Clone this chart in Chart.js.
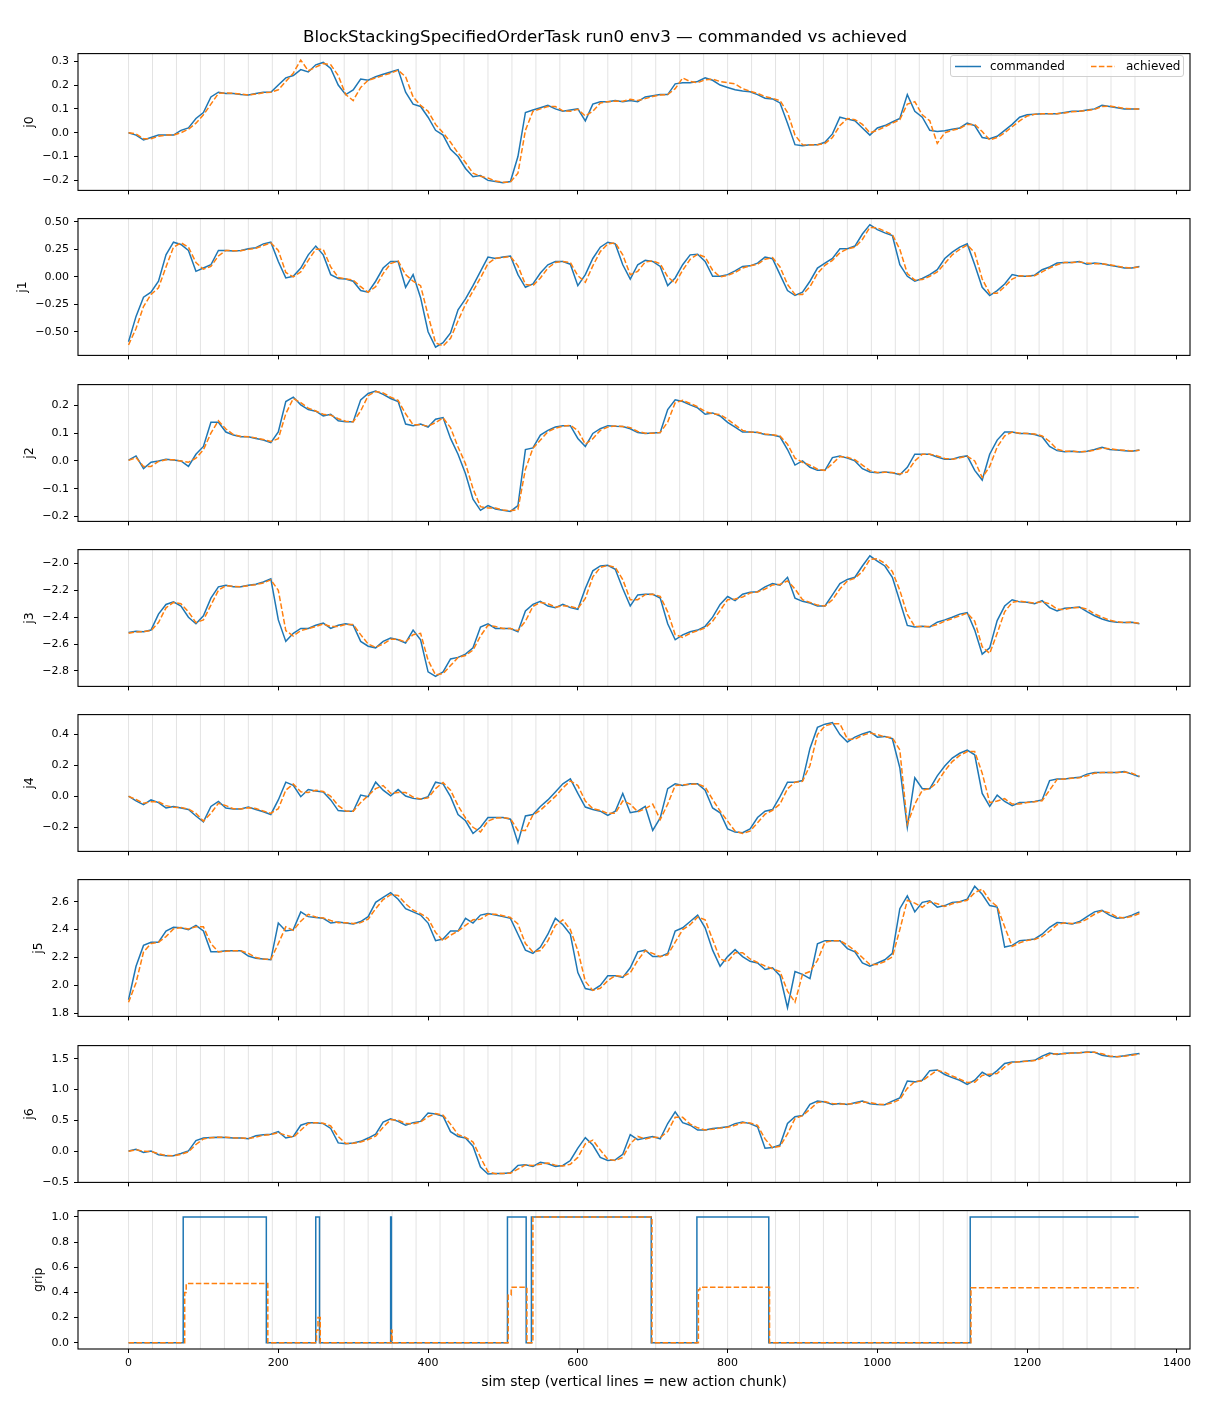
<!DOCTYPE html>
<html>
<head>
<meta charset="utf-8">
<script src="https://cdn.jsdelivr.net/npm/chart.js@4.4.1/dist/chart.umd.min.js"></script>
<style>
  body { margin: 0; background: #fff; font-family: "DejaVu Sans", sans-serif; }
  #fig { position: relative; width: 1210px; height: 1408px; overflow: hidden; }
  .panel { position: absolute; left: 0; width: 1210px; }
  #title { position: absolute; left: 0; top: 25px; width: 1210px; text-align: center;
           font-size: 16.7px; line-height: 22px; color: #000; z-index: 5; }
  #legend { position: absolute; left: 950px; top: 55px; width: 234px; height: 22px; box-sizing: border-box;
            border: 1px solid #d0d0d0; border-radius: 3px; background: rgba(255,255,255,0.8); z-index: 5; }
  #legend span { position: absolute; top: 3px; font-size: 12px; line-height: 14px; color: #000; }
  #legend svg { position: absolute; left: 0; top: 0; }
</style>
</head>
<body>
<div id="fig">
  <div id="title">BlockStackingSpecifiedOrderTask run0 env3 — commanded vs achieved</div>
  <div id="legend">
    <svg width="234" height="22">
      <line x1="4" y1="10.5" x2="30" y2="10.5" stroke="#1f77b4" stroke-width="1.5"/>
      <line x1="140" y1="10.5" x2="164" y2="10.5" stroke="#ff7f0e" stroke-width="1.5" stroke-dasharray="5.5 2.4"/>
    </svg>
    <span style="left:39px">commanded</span>
    <span style="left:175px">achieved</span>
  </div>
</div>
<script>
const steps = [
  0,10,20,30,40,50,60,70,80,90,
  100,110,120,130,140,150,160,170,180,190,
  200,210,220,230,240,250,260,270,280,290,
  300,310,320,330,340,350,360,370,380,390,
  400,410,420,430,440,450,460,470,480,490,
  500,510,520,530,540,550,560,570,580,590,
  600,610,620,630,640,650,660,670,680,690,
  700,710,720,730,740,750,760,770,780,790,
  800,810,820,830,840,850,860,870,880,890,
  900,910,920,930,940,950,960,970,980,990,
  1000,1010,1020,1030,1040,1050,1060,1070,1080,1090,
  1100,1110,1120,1130,1140,1150,1160,1170,1180,1190,
  1200,1210,1220,1230,1240,1250,1260,1270,1280,1290,
  1300,1310,1320,1330,1340,1350
];

// new action chunk starts
const chunkStarts = [0,32,64,96,128,160,192,224,256,288,320,352,384,416,448,480,512,544,576,608,
  640,672,704,736,768,800,832,864,896,928,960,992,1024,1056,1088,1120,1152,1184,1216,1248,1280,1312,1344];

const j0Cmd = [
  0.00,-0.01,-0.03,-0.02,-0.01,-0.01,-0.01,0.01,0.02,0.06,
  0.085,0.15,0.17,0.165,0.165,0.16,0.158,0.165,0.17,0.17,
  0.20,0.23,0.24,0.265,0.255,0.285,0.295,0.27,0.20,0.16,
  0.18,0.225,0.22,0.235,0.245,0.255,0.265,0.17,0.12,0.11,
  0.065,0.01,-0.01,-0.07,-0.10,-0.15,-0.185,-0.18,-0.20,-0.205,
  -0.21,-0.205,-0.10,0.085,0.095,0.105,0.115,0.10,0.09,0.095,
  0.10,0.05,0.12,0.13,0.13,0.135,0.13,0.135,0.13,0.15,
  0.155,0.16,0.16,0.205,0.21,0.21,0.215,0.23,0.22,0.20,
  0.19,0.18,0.175,0.172,0.16,0.145,0.142,0.125,0.04,-0.05,
  -0.055,-0.05,-0.05,-0.04,-0.005,0.065,0.057,0.05,0.02,-0.01,
  0.02,0.03,0.045,0.06,0.16,0.09,0.065,0.01,0.005,0.008,
  0.015,0.02,0.04,0.03,-0.02,-0.025,-0.015,0.01,0.035,0.065,
  0.075,0.078,0.08,0.08,0.08,0.085,0.09,0.09,0.095,0.10,
  0.115,0.11,0.105,0.10,0.10,0.10
];
const j0Ach = [
  0.00,-0.005,-0.025,-0.025,-0.015,-0.01,-0.01,0.0,0.015,0.04,
  0.075,0.12,0.165,0.167,0.165,0.162,0.158,0.162,0.168,0.17,
  0.18,0.215,0.25,0.305,0.26,0.275,0.29,0.285,0.24,0.16,
  0.135,0.19,0.22,0.23,0.24,0.25,0.262,0.235,0.15,0.115,
  0.09,0.035,0.0,-0.04,-0.085,-0.125,-0.17,-0.183,-0.19,-0.203,
  -0.208,-0.207,-0.17,0.01,0.09,0.10,0.11,0.11,0.092,0.09,
  0.098,0.07,0.09,0.125,0.13,0.133,0.132,0.14,0.135,0.143,
  0.152,0.158,0.16,0.185,0.23,0.215,0.21,0.222,0.225,0.215,
  0.21,0.205,0.185,0.174,0.165,0.152,0.144,0.135,0.085,-0.01,
  -0.05,-0.052,-0.05,-0.045,-0.02,0.03,0.06,0.055,0.035,0.0,
  0.01,0.025,0.04,0.055,0.12,0.13,0.075,0.05,-0.045,0.0,
  0.01,0.018,0.035,0.035,0.005,-0.03,-0.02,0.0,0.025,0.05,
  0.07,0.077,0.08,0.08,0.08,0.083,0.088,0.09,0.093,0.098,
  0.11,0.112,0.107,0.102,0.10,0.10
];

const j1Cmd = [
  -0.59,-0.36,-0.185,-0.14,-0.04,0.20,0.315,0.295,0.24,0.05,
  0.08,0.11,0.24,0.24,0.235,0.24,0.255,0.265,0.30,0.315,
  0.14,-0.01,0.005,0.08,0.20,0.28,0.20,0.02,-0.015,-0.02,
  -0.04,-0.125,-0.14,-0.04,0.08,0.14,0.14,-0.095,0.02,-0.19,
  -0.50,-0.64,-0.60,-0.51,-0.30,-0.20,-0.08,0.05,0.18,0.167,
  0.18,0.19,0.02,-0.095,-0.065,0.035,0.11,0.14,0.14,0.115,
  -0.08,0.02,0.167,0.27,0.315,0.30,0.11,-0.02,0.11,0.15,
  0.14,0.095,-0.08,-0.01,0.11,0.20,0.205,0.14,0.005,0.005,
  0.02,0.055,0.095,0.10,0.125,0.18,0.165,0.02,-0.125,-0.17,
  -0.14,-0.04,0.08,0.125,0.167,0.255,0.255,0.28,0.39,0.475,
  0.43,0.40,0.375,0.11,0.005,-0.04,-0.015,0.02,0.065,0.167,
  0.225,0.27,0.30,0.11,-0.095,-0.17,-0.125,-0.065,0.02,0.005,
  0.005,0.015,0.065,0.09,0.125,0.13,0.13,0.14,0.115,0.125,
  0.12,0.105,0.095,0.08,0.08,0.095
];
const j1Ach = [
  -0.62,-0.47,-0.27,-0.16,-0.10,0.09,0.27,0.31,0.27,0.13,
  0.07,0.095,0.19,0.24,0.238,0.238,0.25,0.26,0.285,0.31,
  0.24,0.04,0.0,0.045,0.15,0.25,0.25,0.09,-0.005,-0.02,
  -0.03,-0.09,-0.14,-0.09,0.03,0.12,0.145,0.02,-0.04,-0.08,
  -0.35,-0.60,-0.63,-0.56,-0.40,-0.25,-0.13,-0.01,0.12,0.17,
  0.175,0.185,0.10,-0.07,-0.08,-0.01,0.08,0.13,0.14,0.13,
  0.01,-0.05,0.10,0.23,0.30,0.31,0.20,0.02,0.05,0.135,
  0.145,0.12,0.0,-0.06,0.06,0.16,0.205,0.18,0.06,0.0,
  0.012,0.04,0.08,0.10,0.115,0.16,0.175,0.09,-0.07,-0.16,
  -0.16,-0.09,0.03,0.105,0.15,0.22,0.255,0.27,0.34,0.45,
  0.445,0.415,0.385,0.25,0.03,-0.03,-0.025,0.005,0.045,0.12,
  0.20,0.25,0.29,0.22,-0.02,-0.15,-0.15,-0.09,-0.02,0.01,
  0.005,0.01,0.045,0.08,0.11,0.13,0.13,0.135,0.125,0.12,
  0.12,0.11,0.098,0.085,0.08,0.09
];

const j2Cmd = [
  0.003,0.018,-0.028,-0.005,0.0,0.006,0.003,0.0,-0.02,0.024,
  0.052,0.139,0.139,0.104,0.093,0.087,0.087,0.081,0.075,0.066,
  0.104,0.214,0.23,0.202,0.185,0.179,0.162,0.168,0.145,0.141,
  0.141,0.22,0.243,0.252,0.24,0.225,0.214,0.133,0.127,0.133,
  0.122,0.15,0.156,0.081,0.024,-0.046,-0.138,-0.178,-0.161,-0.173,
  -0.178,-0.182,-0.161,0.041,0.047,0.093,0.11,0.122,0.127,0.127,
  0.081,0.052,0.099,0.116,0.127,0.125,0.124,0.116,0.102,0.099,
  0.101,0.102,0.185,0.22,0.214,0.202,0.191,0.168,0.173,0.162,
  0.139,0.122,0.104,0.104,0.102,0.095,0.093,0.087,0.041,-0.015,
  0.0,-0.023,-0.034,-0.034,0.012,0.018,0.01,0.0,-0.028,-0.04,
  -0.043,-0.04,-0.043,-0.05,-0.023,0.024,0.024,0.024,0.014,0.006,
  0.006,0.014,0.018,-0.034,-0.069,0.024,0.075,0.104,0.104,0.099,
  0.099,0.095,0.087,0.052,0.037,0.033,0.035,0.032,0.035,0.041,
  0.049,0.041,0.039,0.037,0.035,0.039
];
const j2Ach = [
  0.002,0.012,-0.02,-0.02,-0.002,0.004,0.004,0.0,-0.005,0.01,
  0.04,0.10,0.145,0.115,0.095,0.088,0.087,0.083,0.077,0.07,
  0.08,0.17,0.225,0.21,0.19,0.18,0.168,0.165,0.152,0.143,
  0.141,0.18,0.235,0.25,0.245,0.23,0.218,0.17,0.13,0.13,
  0.125,0.138,0.155,0.12,0.05,-0.01,-0.10,-0.165,-0.17,-0.17,
  -0.177,-0.18,-0.175,-0.03,0.045,0.075,0.105,0.118,0.125,0.128,
  0.11,0.06,0.08,0.11,0.122,0.126,0.124,0.12,0.106,0.1,
  0.1,0.102,0.14,0.21,0.218,0.207,0.195,0.178,0.17,0.167,
  0.15,0.13,0.11,0.104,0.103,0.097,0.094,0.09,0.06,0.01,
  -0.005,-0.015,-0.03,-0.034,-0.01,0.016,0.013,0.004,-0.015,-0.035,
  -0.042,-0.041,-0.042,-0.047,-0.04,0.0,0.024,0.024,0.018,0.009,
  0.006,0.011,0.017,0.0,-0.06,-0.02,0.05,0.09,0.104,0.1,
  0.099,0.097,0.09,0.07,0.042,0.035,0.035,0.033,0.034,0.039,
  0.046,0.044,0.04,0.038,0.036,0.038
];

const j3Cmd = [
  -2.513,-2.504,-2.508,-2.496,-2.377,-2.305,-2.286,-2.317,-2.40,-2.449,
  -2.389,-2.258,-2.174,-2.162,-2.174,-2.174,-2.162,-2.155,-2.138,-2.115,
  -2.42,-2.58,-2.52,-2.484,-2.484,-2.46,-2.444,-2.484,-2.46,-2.449,
  -2.46,-2.58,-2.616,-2.628,-2.58,-2.556,-2.568,-2.592,-2.496,-2.568,
  -2.807,-2.84,-2.807,-2.711,-2.699,-2.675,-2.628,-2.473,-2.449,-2.484,
  -2.484,-2.484,-2.508,-2.353,-2.305,-2.282,-2.317,-2.329,-2.305,-2.329,
  -2.341,-2.186,-2.055,-2.019,-2.014,-2.043,-2.186,-2.317,-2.234,-2.229,
  -2.229,-2.258,-2.449,-2.568,-2.532,-2.508,-2.496,-2.468,-2.40,-2.305,
  -2.246,-2.277,-2.229,-2.215,-2.21,-2.174,-2.15,-2.162,-2.103,-2.258,
  -2.282,-2.294,-2.317,-2.317,-2.234,-2.15,-2.119,-2.103,-2.019,-1.943,
  -1.983,-2.019,-2.103,-2.282,-2.461,-2.473,-2.468,-2.473,-2.437,-2.42,
  -2.40,-2.377,-2.365,-2.496,-2.675,-2.628,-2.425,-2.317,-2.27,-2.286,
  -2.289,-2.30,-2.277,-2.329,-2.353,-2.334,-2.329,-2.325,-2.358,-2.389,
  -2.413,-2.43,-2.437,-2.44,-2.437,-2.449
];
const j3Ach = [
  -2.52,-2.51,-2.508,-2.50,-2.44,-2.33,-2.29,-2.30,-2.36,-2.44,
  -2.42,-2.31,-2.20,-2.165,-2.17,-2.174,-2.165,-2.158,-2.145,-2.122,
  -2.20,-2.50,-2.54,-2.50,-2.485,-2.47,-2.45,-2.47,-2.47,-2.453,
  -2.455,-2.53,-2.60,-2.625,-2.60,-2.565,-2.565,-2.585,-2.53,-2.52,
  -2.72,-2.83,-2.82,-2.76,-2.70,-2.685,-2.645,-2.54,-2.46,-2.47,
  -2.484,-2.484,-2.50,-2.43,-2.32,-2.29,-2.30,-2.325,-2.315,-2.32,
  -2.335,-2.26,-2.10,-2.03,-2.015,-2.03,-2.12,-2.27,-2.27,-2.232,
  -2.229,-2.245,-2.36,-2.53,-2.55,-2.52,-2.50,-2.48,-2.43,-2.35,
  -2.27,-2.265,-2.25,-2.22,-2.212,-2.19,-2.16,-2.156,-2.13,-2.19,
  -2.27,-2.29,-2.31,-2.317,-2.27,-2.19,-2.13,-2.11,-2.06,-1.97,
  -1.965,-2.00,-2.06,-2.20,-2.38,-2.47,-2.47,-2.47,-2.455,-2.43,
  -2.41,-2.39,-2.37,-2.43,-2.62,-2.67,-2.52,-2.36,-2.29,-2.28,
  -2.288,-2.295,-2.285,-2.30,-2.34,-2.343,-2.33,-2.327,-2.34,-2.375,
  -2.40,-2.422,-2.434,-2.44,-2.438,-2.445
];

const j4Cmd = [
  0.002,-0.029,-0.054,-0.023,-0.04,-0.075,-0.065,-0.075,-0.085,-0.127,
  -0.165,-0.065,-0.033,-0.075,-0.081,-0.081,-0.069,-0.085,-0.10,-0.117,
  -0.023,0.092,0.071,-0.002,0.044,0.035,0.029,-0.023,-0.092,-0.096,
  -0.096,0.008,-0.002,0.092,0.04,0.004,0.044,0.002,-0.013,-0.019,
  -0.002,0.092,0.081,-0.002,-0.117,-0.158,-0.24,-0.20,-0.137,-0.137,
  -0.137,-0.148,-0.30,-0.127,-0.117,-0.065,-0.023,0.029,0.081,0.113,
  0.019,-0.069,-0.085,-0.096,-0.123,-0.096,0.019,-0.106,-0.096,-0.065,
  -0.22,-0.14,0.05,0.081,0.071,0.081,0.081,0.04,-0.075,-0.106,
  -0.21,-0.231,-0.235,-0.21,-0.137,-0.096,-0.085,-0.002,0.092,0.092,
  0.102,0.31,0.446,0.467,0.477,0.40,0.352,0.383,0.404,0.419,
  0.383,0.388,0.373,0.185,-0.20,0.12,0.05,0.05,0.133,0.196,
  0.248,0.279,0.30,0.269,0.019,-0.065,0.008,-0.033,-0.06,-0.04,
  -0.038,-0.033,-0.023,0.102,0.113,0.113,0.119,0.123,0.144,0.154,
  0.154,0.154,0.154,0.16,0.144,0.127
];
const j4Ach = [
  0.0,-0.02,-0.045,-0.035,-0.035,-0.06,-0.07,-0.072,-0.082,-0.11,
  -0.16,-0.11,-0.045,-0.06,-0.08,-0.081,-0.073,-0.078,-0.095,-0.11,
  -0.08,0.04,0.08,0.03,0.025,0.04,0.032,0.0,-0.06,-0.095,
  -0.096,-0.04,0.005,0.05,0.07,0.02,0.025,0.025,-0.005,-0.017,
  -0.01,0.05,0.09,0.04,-0.06,-0.14,-0.20,-0.23,-0.16,-0.14,
  -0.137,-0.145,-0.22,-0.22,-0.12,-0.09,-0.045,0.0,0.055,0.10,
  0.07,-0.03,-0.08,-0.09,-0.11,-0.11,-0.03,-0.05,-0.10,-0.08,
  -0.05,-0.15,-0.05,0.07,0.075,0.078,0.081,0.06,-0.02,-0.095,
  -0.16,-0.225,-0.24,-0.225,-0.17,-0.115,-0.09,-0.05,0.05,0.092,
  0.097,0.20,0.40,0.455,0.47,0.47,0.37,0.37,0.395,0.41,
  0.40,0.385,0.38,0.30,-0.18,-0.05,0.04,0.05,0.09,0.165,
  0.225,0.265,0.29,0.29,0.15,-0.04,-0.03,-0.015,-0.05,-0.05,
  -0.04,-0.035,-0.028,0.04,0.11,0.113,0.117,0.121,0.133,0.15,
  0.154,0.154,0.154,0.157,0.15,0.13
];

const j5Cmd = [
  1.898,2.138,2.287,2.31,2.31,2.39,2.417,2.413,2.40,2.431,
  2.39,2.241,2.241,2.248,2.248,2.248,2.211,2.195,2.189,2.184,
  2.447,2.39,2.40,2.527,2.493,2.486,2.481,2.447,2.454,2.447,
  2.44,2.458,2.493,2.595,2.63,2.664,2.618,2.55,2.527,2.504,
  2.447,2.321,2.333,2.39,2.39,2.481,2.447,2.504,2.515,2.504,
  2.493,2.481,2.367,2.253,2.23,2.275,2.367,2.481,2.435,2.367,
  2.093,1.978,1.967,2.001,2.07,2.07,2.058,2.127,2.241,2.253,
  2.207,2.207,2.23,2.39,2.413,2.458,2.504,2.413,2.253,2.138,
  2.207,2.257,2.207,2.173,2.161,2.115,2.127,2.07,1.841,2.10,
  2.08,2.05,2.298,2.321,2.321,2.321,2.264,2.241,2.161,2.138,
  2.161,2.184,2.23,2.55,2.641,2.527,2.595,2.607,2.561,2.572,
  2.595,2.60,2.618,2.71,2.653,2.572,2.561,2.275,2.287,2.321,
  2.326,2.333,2.367,2.417,2.451,2.447,2.44,2.458,2.493,2.527,
  2.538,2.504,2.481,2.486,2.504,2.527
];
const j5Ach = [
  1.88,2.02,2.24,2.30,2.31,2.35,2.405,2.415,2.405,2.42,
  2.42,2.30,2.24,2.245,2.248,2.248,2.23,2.20,2.19,2.186,
  2.30,2.42,2.395,2.46,2.51,2.49,2.483,2.465,2.45,2.45,
  2.443,2.45,2.475,2.55,2.615,2.65,2.645,2.585,2.54,2.515,
  2.48,2.38,2.32,2.36,2.39,2.43,2.47,2.475,2.51,2.51,
  2.50,2.487,2.44,2.30,2.24,2.25,2.32,2.43,2.47,2.40,
  2.25,2.03,1.965,1.98,2.035,2.07,2.065,2.09,2.18,2.25,
  2.23,2.207,2.22,2.31,2.40,2.435,2.49,2.47,2.33,2.19,
  2.17,2.235,2.235,2.19,2.165,2.14,2.12,2.10,1.96,1.88,
  2.08,2.10,2.18,2.31,2.321,2.321,2.29,2.25,2.20,2.15,
  2.15,2.172,2.205,2.40,2.61,2.59,2.56,2.60,2.585,2.565,
  2.585,2.598,2.61,2.665,2.69,2.61,2.565,2.42,2.28,2.305,
  2.323,2.33,2.35,2.39,2.435,2.449,2.443,2.45,2.475,2.51,
  2.535,2.52,2.49,2.483,2.495,2.515
];

const j6Cmd = [
  0.005,0.031,-0.021,0.005,-0.057,-0.073,-0.073,-0.036,0.005,0.172,
  0.214,0.224,0.229,0.224,0.214,0.214,0.203,0.25,0.266,0.276,
  0.318,0.214,0.24,0.422,0.464,0.464,0.448,0.37,0.135,0.12,
  0.135,0.161,0.214,0.276,0.474,0.526,0.484,0.422,0.464,0.484,
  0.62,0.604,0.568,0.318,0.24,0.214,0.083,-0.255,-0.37,-0.36,
  -0.36,-0.349,-0.229,-0.219,-0.245,-0.177,-0.203,-0.245,-0.23,-0.15,
  0.05,0.22,0.10,-0.10,-0.15,-0.14,-0.05,0.27,0.188,0.214,
  0.24,0.203,0.45,0.64,0.464,0.422,0.344,0.344,0.37,0.38,
  0.396,0.448,0.474,0.448,0.396,0.05,0.06,0.10,0.45,0.56,
  0.578,0.76,0.813,0.797,0.76,0.776,0.76,0.786,0.813,0.771,
  0.76,0.755,0.813,0.865,1.14,1.125,1.151,1.307,1.318,1.245,
  1.193,1.151,1.083,1.151,1.281,1.214,1.307,1.422,1.448,1.453,
  1.464,1.474,1.542,1.594,1.568,1.589,1.594,1.599,1.609,1.604,
  1.557,1.536,1.531,1.547,1.568,1.583
];
const j6Ach = [
  0.0,0.025,0.0,-0.005,-0.04,-0.07,-0.073,-0.05,-0.01,0.11,
  0.20,0.22,0.227,0.226,0.218,0.214,0.208,0.23,0.26,0.27,
  0.30,0.26,0.225,0.34,0.45,0.464,0.455,0.41,0.24,0.125,
  0.128,0.15,0.19,0.245,0.39,0.51,0.505,0.45,0.445,0.475,
  0.56,0.61,0.585,0.44,0.27,0.225,0.15,-0.10,-0.33,-0.365,
  -0.36,-0.355,-0.29,-0.222,-0.232,-0.21,-0.19,-0.225,-0.24,-0.21,
  -0.10,0.12,0.18,0.02,-0.13,-0.15,-0.10,0.12,0.24,0.2,
  0.228,0.222,0.32,0.55,0.55,0.44,0.38,0.344,0.357,0.375,
  0.39,0.42,0.462,0.46,0.42,0.20,0.055,0.08,0.28,0.53,
  0.578,0.68,0.79,0.805,0.775,0.768,0.768,0.773,0.80,0.79,
  0.765,0.757,0.785,0.84,1.02,1.13,1.14,1.23,1.312,1.28,
  1.22,1.17,1.115,1.12,1.23,1.25,1.26,1.37,1.44,1.45,
  1.46,1.47,1.51,1.57,1.58,1.58,1.592,1.597,1.605,1.606,
  1.58,1.545,1.533,1.54,1.558,1.578
];

// gripper: each value holds from its step until the next listed step
const gripCmdSteps = [0, 73, 184, 250, 255, 350, 351, 506, 531, 538, 698, 759, 855, 1124, 1349];
const gripCmd      = [0, 1,  0,   1,   0,   1,   0,   1,   0,   1,   0,   1,   0,   1,    1];
const gripAchSteps = [0, 75, 77, 186, 251, 253, 256, 351, 352, 507, 511, 532, 540, 699, 761, 763, 856, 1125, 1349];
const gripAch      = [0, 0.40, 0.47, 0, 0.10, 0.20, 0, 0.10, 0, 0.38, 0.44, 0, 1, 0, 0.42, 0.44, 0, 0.437, 0.437];

// tick values
const xTicks = [0, 200, 400, 600, 800, 1000, 1200, 1400];
const j0Ticks = [-0.2, -0.1, 0, 0.1, 0.2, 0.3];
const j1Ticks = [-0.5, -0.25, 0, 0.25, 0.5];
const j2Ticks = [-0.2, -0.1, 0, 0.1, 0.2];
const j3Ticks = [-2.8, -2.6, -2.4, -2.2, -2.0];
const j4Ticks = [-0.2, 0, 0.2, 0.4];
const j5Ticks = [1.8, 2.0, 2.2, 2.4, 2.6];
const j6Ticks = [-0.5, 0, 0.5, 1.0, 1.5];
const gripTicks = [0, 0.2, 0.4, 0.6, 0.8, 1.0];

const panels = [
  { name: 'j0', cmd: j0Cmd, ach: j0Ach, min: -0.242, max: 0.332, ticks: j0Ticks, dec: 1 },
  { name: 'j1', cmd: j1Cmd, ach: j1Ach, min: -0.715, max: 0.53, ticks: j1Ticks, dec: 2 },
  { name: 'j2', cmd: j2Cmd, ach: j2Ach, min: -0.218, max: 0.275, ticks: j2Ticks, dec: 1 },
  { name: 'j3', cmd: j3Cmd, ach: j3Ach, min: -2.915, max: -1.897, ticks: j3Ticks, dec: 1 },
  { name: 'j4', cmd: j4Cmd, ach: j4Ach, min: -0.356, max: 0.529, ticks: j4Ticks, dec: 1 },
  { name: 'j5', cmd: j5Cmd, ach: j5Ach, min: 1.779, max: 2.758, ticks: j5Ticks, dec: 1 },
  { name: 'j6', cmd: j6Cmd, ach: j6Ach, min: -0.505, max: 1.713, ticks: j6Ticks, dec: 1 },
  { name: 'grip', cmd: gripCmd, ach: gripAch, cmdX: gripCmdSteps, achX: gripAchSteps,
    min: -0.05, max: 1.05, ticks: gripTicks, dec: 1, stepped: 'before' }
];

Chart.defaults.font.family = '"DejaVu Sans", sans-serif';
Chart.defaults.color = '#000';

const AXIS_LEFT = 78, TICK_LEN = 4, TICK_PAD = 5, TICK_FONT = 11, YLABEL_FONT = 12.5;

function fmt(v, dec) {
  return v.toFixed(dec).replace('-', '\u2212');
}
function toXY(xs, ys) {
  return ys.map((y, i) => ({ x: xs[i], y: y }));
}

// light vertical line at every new action chunk
const chunkLines = {
  id: 'chunkLines',
  beforeDatasetsDraw(chart) {
    const { ctx, chartArea: a, scales: { x } } = chart;
    ctx.save();
    ctx.strokeStyle = 'rgba(128,128,128,0.28)';
    ctx.lineWidth = 0.8;
    chunkStarts.forEach(s => {
      const px = x.getPixelForValue(s);
      ctx.beginPath();
      ctx.moveTo(px, a.top);
      ctx.lineTo(px, a.bottom);
      ctx.stroke();
    });
    ctx.restore();
  }
};

// black box around each axes
const frame = {
  id: 'frame',
  afterDatasetsDraw(chart) {
    const { ctx, chartArea: a } = chart;
    ctx.save();
    ctx.strokeStyle = '#000';
    ctx.lineWidth = 1.1;
    ctx.strokeRect(a.left, a.top, a.right - a.left, a.bottom - a.top);
    ctx.restore();
  }
};

const measure = document.createElement('canvas').getContext('2d');
measure.font = TICK_FONT + 'px "DejaVu Sans"';

const fig = document.getElementById('fig');
const firstTop = 50, spacing = 165.29;

panels.forEach((p, k) => {
  const last = k === panels.length - 1;
  const axTop = Math.round(firstTop + spacing * k);
  const top = axTop - 8;
  const h = last ? 1408 - top : 160;
  const xAxisH = h - 8 - 142;

  const div = document.createElement('div');
  div.className = 'panel';
  div.style.top = top + 'px';
  div.style.height = h + 'px';
  const cv = document.createElement('canvas');
  div.appendChild(cv);
  fig.insertBefore(div, document.getElementById('legend'));

  // put the y label just left of the widest tick label, as matplotlib does
  const widest = Math.max(...p.ticks.map(t => measure.measureText(fmt(t, p.dec)).width));
  const labelCenter = AXIS_LEFT - TICK_LEN - TICK_PAD - widest - 13;
  const titlePad = labelCenter - YLABEL_FONT * 1.2 / 2;

  new Chart(cv, {
    type: 'line',
    data: {
      datasets: [
        { label: 'achieved', data: toXY(p.achX || steps, p.ach), borderColor: '#ff7f0e',
          borderWidth: 1.5, borderDash: [5.5, 2.4], pointRadius: 0, fill: false,
          stepped: p.stepped || false },
        { label: 'commanded', data: toXY(p.cmdX || steps, p.cmd), borderColor: '#1f77b4',
          borderWidth: 1.5, pointRadius: 0, fill: false, stepped: p.stepped || false }
      ]
    },
    options: {
      responsive: true,
      maintainAspectRatio: false,
      animation: false,
      events: [],
      layout: { padding: { top: 8, right: 20, bottom: 0, left: 0 } },
      plugins: { legend: { display: false }, tooltip: { enabled: false } },
      scales: {
        x: {
          type: 'linear', min: -67.5, max: 1417.5,
          afterBuildTicks: s => { s.ticks = xTicks.map(v => ({ value: v })); },
          afterFit: s => { s.height = xAxisH; },
          grid: { drawOnChartArea: false, drawTicks: true, tickLength: TICK_LEN, tickColor: '#000', tickWidth: 1 },
          border: { display: false },
          ticks: { display: last, font: { size: TICK_FONT }, padding: 4, maxRotation: 0, autoSkip: false,
                   callback: v => String(v) },
          title: { display: last, text: 'sim step (vertical lines = new action chunk)',
                   font: { size: 13.9 }, padding: { top: 0, bottom: 17 } }
        },
        y: {
          min: p.min, max: p.max,
          afterBuildTicks: s => { s.ticks = p.ticks.map(v => ({ value: v })); },
          afterFit: s => { s.width = AXIS_LEFT; },
          grid: { drawOnChartArea: false, drawTicks: true, tickLength: TICK_LEN, tickColor: '#000', tickWidth: 1 },
          border: { display: false },
          ticks: { font: { size: TICK_FONT }, padding: TICK_PAD, autoSkip: false,
                   callback: v => fmt(v, p.dec) },
          title: { display: true, text: p.name, font: { size: YLABEL_FONT },
                   padding: { top: titlePad, bottom: 0 } }
        }
      }
    },
    plugins: [chunkLines, frame]
  });
});
</script>
</body>
</html>
